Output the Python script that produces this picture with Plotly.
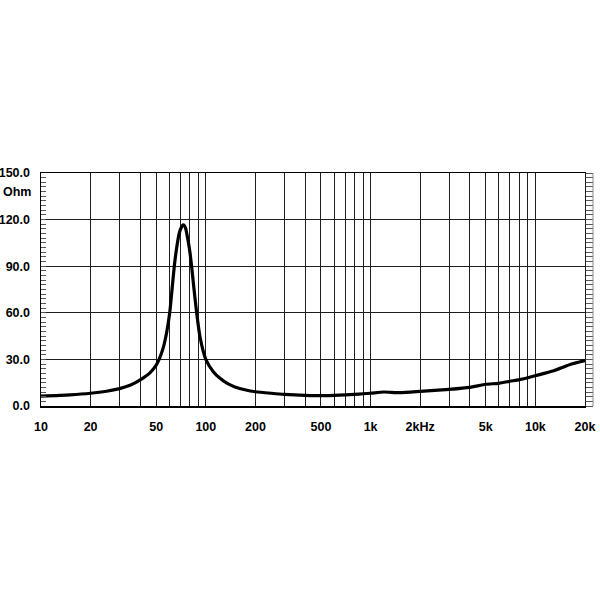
import numpy as np
import plotly.graph_objects as go

# Impedance curve (frequency in Hz, impedance in Ohm)
freq = [10, 15, 20, 25, 30, 34.7, 40, 45.8, 50, 52.3, 55.2, 57.9, 60.4, 62.4,
        64.4, 66.5, 69.0, 71.4, 72.8, 74.2, 75.5, 77.6, 80, 82, 84.7, 88, 92.2,
        100, 111, 122, 135, 150, 175, 200, 250, 300, 400, 500, 600, 700, 800,
        900, 1000, 1200, 1500, 2000, 3000, 4000, 5000, 6000, 7000, 8000, 9000,
        10000, 12900, 16100, 20000]
impedance = [6.4, 7.2, 8.2, 9.5, 11.2, 13.3, 16.8, 21.3, 26.3, 30.5, 37.6,
             47.5, 60.0, 75.0, 90.0, 101.5, 111.2, 115.5, 116.6, 116.0, 114.3,
             108.0, 99.4, 90.0, 75.8, 60.0, 44.6, 30.0, 22.1, 17.8, 14.5, 12.3,
             10.3, 9.2, 8.2, 7.5, 6.9, 6.7, 6.9, 7.2, 7.5, 7.9, 8.2, 9.0, 8.6,
             9.4, 10.7, 12.0, 14.0, 14.6, 15.9, 17.0, 18.2, 19.5, 22.7, 26.6,
             29.2]

# Axis ticks
x_grid = [10, 20, 30, 40, 50, 60, 70, 80, 90, 100, 200, 300, 400, 500, 600,
          700, 800, 900, 1000, 2000, 3000, 4000, 5000, 6000, 7000, 8000, 9000,
          10000, 20000]
x_labels = {10: "10", 20: "20", 50: "50", 100: "100", 200: "200", 500: "500",
            1000: "1k", 2000: "2kHz", 5000: "5k", 10000: "10k", 20000: "20k"}
y_ticks = [0, 30, 60, 90, 120, 150]
y_ticktext = ["0.0", "30.0", "60.0", "90.0", "120.0", "150.0"]
y_unit = "Ohm"

FONT = "Liberation Sans, Arial, sans-serif"
GRID = "#1e1e1e"
TF = dict(family=FONT, size=12.5, color="black", weight="bold")

fig = go.Figure()
fig.add_trace(go.Scatter(
    x=freq, y=impedance, mode="lines",
    line=dict(color="black", width=3.2, shape="spline", smoothing=0.6),
    hoverinfo="skip", showlegend=False,
))
# invisible trace for the right-hand ruler axis
fig.add_trace(go.Scatter(x=[freq[0]], y=[0], yaxis="y2", mode="markers",
                         marker=dict(opacity=0), showlegend=False,
                         hoverinfo="skip"))

fig.update_layout(
    width=600, height=600,
    margin=dict(l=41, r=15, t=173, b=194),
    paper_bgcolor="white", plot_bgcolor="white",
    font=dict(family=FONT, size=13, color="black"),
    xaxis=dict(
        type="log", range=[np.log10(10), np.log10(20000)],
        tickvals=x_grid,
        ticktext=[x_labels.get(v, "") for v in x_grid],
        showgrid=True, gridcolor=GRID, gridwidth=1,
        showline=True, linecolor="black", linewidth=1.5, mirror=True,
        ticks="", zeroline=False, automargin=False,
        tickfont=TF, ticklabelstandoff=8,
    ),
    yaxis=dict(
        range=[0, 150], tickvals=y_ticks, ticktext=y_ticktext,
        showgrid=True, gridcolor=GRID, gridwidth=1,
        showline=True, linecolor="black", linewidth=1.5,
        ticks="inside", ticklen=5, tickcolor="#555", tickwidth=1,
        minor=dict(dtick=3, ticks="inside", ticklen=5, tickcolor="#555",
                   tickwidth=1, showgrid=False),
        zeroline=False, automargin=False,
        tickfont=TF, ticklabelstandoff=7,
    ),
    yaxis2=dict(
        range=[0, 150], overlaying="y", side="right",
        showgrid=False, zeroline=False, showticklabels=False,
        showline=True, linecolor=GRID, linewidth=1.2, automargin=False,
        ticks="outside", tickvals=[], ticklen=7, tickcolor="#555",
        minor=dict(dtick=3, ticks="outside", ticklen=7, tickcolor="#555",
                   tickwidth=1, showgrid=False),
    ),
    shapes=[dict(type="line", xref="paper", yref="paper",
                 x0=1.0147, x1=1.0147, y0=0, y1=1,
                 line=dict(color="#888", width=1))],
    annotations=[dict(text=y_unit, xref="paper", yref="y",
                      x=-0.015, y=137.8, xanchor="right", yanchor="middle",
                      showarrow=False, font=TF)],
)

# remove the browser's default 8px page margin so the figure sits at (0, 0)
fig.write_html("out.html",
               config={"displayModeBar": False, "staticPlot": True},
               post_script="document.body.style.margin='0';"
                           "document.body.style.overflow='hidden';")
